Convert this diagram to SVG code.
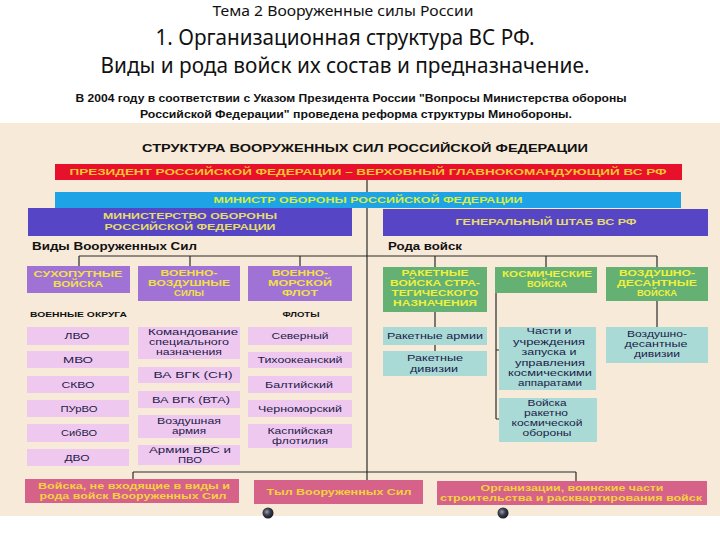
<svg xmlns="http://www.w3.org/2000/svg" width="720" height="540" viewBox="0 0 720 540">
<defs>
<style>
text { font-family: "Liberation Sans", Arial, sans-serif; }
.ttl { font-family: "Noto Sans", "Liberation Sans", sans-serif; fill:#111; text-anchor:middle; }
.par { font-family: "Liberation Sans", sans-serif; font-weight:bold; font-size:11px; fill:#111; text-anchor:middle; }
.ln { stroke:#2a2a2a; stroke-width:1.2; fill:none; }
.red { fill:#e8112b; }
.cy { fill:#1ea4e6; }
.nv { fill:#5646c6; }
.vid { fill:#a172d6; }
.pk { fill:#efc8ef; }
.rod { fill:#65b173; }
.tl { fill:#a9dad6; }
.bt { fill:#d6628a; }
.hd { font-weight:bold; text-anchor:middle; font-size:8.5px; }
.yr { fill:#f6c431; }
.yc { fill:#d9ee3a; }
.yn { fill:#e6dc6a; }
.yv { fill:#f2e048; }
.yg { fill:#eef040; }
.yb { fill:#f5d23c; }
.s { font-size:9px; fill:#1c1c4a; text-anchor:middle; }
.lb { font-weight:bold; fill:#111; }
</style>
<radialGradient id="blob" cx="0.4" cy="0.4" r="0.6">
<stop offset="0" stop-color="#9aa0b0"/>
<stop offset="0.5" stop-color="#3a3f4e"/>
<stop offset="1" stop-color="#1a1c24"/>
</radialGradient>
</defs>

<rect x="0" y="0" width="720" height="540" fill="#ffffff"/>
<rect x="0" y="123" width="720" height="393" fill="#f7ead8"/>

<g id="titles">
<text class="ttl" x="343" y="16" font-size="15" textLength="261" lengthAdjust="spacingAndGlyphs">Тема 2 Вооруженные силы России</text>
<text class="ttl" x="345" y="45" font-size="21" textLength="379" lengthAdjust="spacingAndGlyphs">1. Организационная структура ВС РФ.</text>
<text class="ttl" x="345" y="73" font-size="21" textLength="489" lengthAdjust="spacingAndGlyphs">Виды и рода войск их состав и предназначение.</text>
<text class="par" x="351" y="102" textLength="551" lengthAdjust="spacingAndGlyphs">В 2004 году в соответствии с Указом Президента России "Вопросы Министерства обороны</text>
<text class="par" x="356" y="118" textLength="432" lengthAdjust="spacingAndGlyphs">Российской Федерации" проведена реформа структуры Минобороны.</text>
<text class="lb" x="365" y="152" font-size="10" text-anchor="middle" textLength="446" lengthAdjust="spacingAndGlyphs">СТРУКТУРА ВООРУЖЕННЫХ СИЛ РОССИЙСКОЙ ФЕДЕРАЦИИ</text>
<text class="lb" x="32" y="250" font-size="10.5" textLength="165" lengthAdjust="spacingAndGlyphs">Виды Вооруженных Сил</text>
<text class="lb" x="388" y="250" font-size="10.5" textLength="74" lengthAdjust="spacingAndGlyphs">Рода войск</text>
<text class="lb" x="30" y="317" font-size="6.5" textLength="97" lengthAdjust="spacingAndGlyphs">ВОЕННЫЕ ОКРУГА</text>
<text class="lb" x="301" y="317" font-size="7" text-anchor="middle" textLength="37" lengthAdjust="spacingAndGlyphs">ФЛОТЫ</text>
</g>

<g id="connectors">
<path class="ln" d="M367 180V480"/>
<path class="ln" d="M79 256H657M79 256V266M190 256V266M300 256V266M435 256V267M546 256V267M657 256V267"/>
<path class="ln" d="M435 312V327M435 345V351"/>
<path class="ln" d="M496 293V419M496 350H499M496 419H499"/>
<path class="ln" d="M657 301V327"/>
<path class="ln" d="M133 472H576M133 472V479M576 472V481"/>
</g>

<g id="president">
<rect class="red" x="55" y="164" width="627" height="16"/>
<text class="hd yr" x="368" y="175" textLength="597" lengthAdjust="spacingAndGlyphs">ПРЕЗИДЕНТ РОССИЙСКОЙ ФЕДЕРАЦИИ – ВЕРХОВНЫЙ ГЛАВНОКОМАНДУЮЩИЙ ВС РФ</text>
</g>
<g id="minister">
<rect class="cy" x="55" y="192" width="626" height="16"/>
<text class="hd yc" x="368" y="203" textLength="309" lengthAdjust="spacingAndGlyphs">МИНИСТР ОБОРОНЫ РОССИЙСКОЙ ФЕДЕРАЦИИ</text>
</g>
<g id="ministry">
<rect class="nv" x="28" y="208" width="324" height="28"/>
<text class="hd yn" x="190" y="219" textLength="174" lengthAdjust="spacingAndGlyphs">МИНИСТЕРСТВО ОБОРОНЫ</text>
<text class="hd yn" x="190" y="230" textLength="171" lengthAdjust="spacingAndGlyphs">РОССИЙСКОЙ ФЕДЕРАЦИИ</text>
</g>
<g id="genshtab">
<rect class="nv" x="383" y="209" width="325" height="27"/>
<text class="hd yn" x="546" y="225" textLength="181" lengthAdjust="spacingAndGlyphs">ГЕНЕРАЛЬНЫЙ ШТАБ ВС РФ</text>
</g>

<g id="sv">
<rect class="vid" x="27" y="266" width="103" height="27"/>
<text class="hd yv" x="78" y="277" textLength="89" lengthAdjust="spacingAndGlyphs">СУХОПУТНЫЕ</text>
<text class="hd yv" x="78" y="287" textLength="50" lengthAdjust="spacingAndGlyphs">ВОЙСКА</text>
</g>
<g id="vvs">
<rect class="vid" x="138" y="266" width="102" height="35"/>
<text class="hd yv" x="189" y="276" textLength="57" lengthAdjust="spacingAndGlyphs">ВОЕННО-</text>
<text class="hd yv" x="189" y="286" textLength="82" lengthAdjust="spacingAndGlyphs">ВОЗДУШНЫЕ</text>
<text class="hd yv" x="189" y="296" textLength="30" lengthAdjust="spacingAndGlyphs">СИЛЫ</text>
</g>
<g id="vmf">
<rect class="vid" x="248" y="266" width="104" height="35"/>
<text class="hd yv" x="300" y="276" textLength="56" lengthAdjust="spacingAndGlyphs">ВОЕННО-</text>
<text class="hd yv" x="300" y="286" textLength="64" lengthAdjust="spacingAndGlyphs">МОРСКОЙ</text>
<text class="hd yv" x="300" y="296" textLength="36" lengthAdjust="spacingAndGlyphs">ФЛОТ</text>
</g>
<g id="rvsn">
<rect class="rod" x="383" y="267" width="104" height="45"/>
<text class="hd yg" x="435" y="276" textLength="67" lengthAdjust="spacingAndGlyphs">РАКЕТНЫЕ</text>
<text class="hd yg" x="435" y="286" textLength="90" lengthAdjust="spacingAndGlyphs">ВОЙСКА СТРА-</text>
<text class="hd yg" x="435" y="296" textLength="87" lengthAdjust="spacingAndGlyphs">ТЕГИЧЕСКОГО</text>
<text class="hd yg" x="435" y="306" textLength="84" lengthAdjust="spacingAndGlyphs">НАЗНАЧЕНИЯ</text>
</g>
<g id="kv">
<rect class="rod" x="495" y="267" width="102" height="26"/>
<text class="hd yg" x="547" y="277" textLength="90" lengthAdjust="spacingAndGlyphs">КОСМИЧЕСКИЕ</text>
<text class="hd yg" x="547" y="287" textLength="40" lengthAdjust="spacingAndGlyphs">ВОЙСКА</text>
</g>
<g id="vdv">
<rect class="rod" x="606" y="267" width="102" height="34"/>
<text class="hd yg" x="657" y="276" textLength="76" lengthAdjust="spacingAndGlyphs">ВОЗДУШНО-</text>
<text class="hd yg" x="657" y="286" textLength="80" lengthAdjust="spacingAndGlyphs">ДЕСАНТНЫЕ</text>
<text class="hd yg" x="657" y="296" textLength="40" lengthAdjust="spacingAndGlyphs">ВОЙСКА</text>
</g>

<g id="lvo"><rect class="pk" x="27" y="327" width="102" height="18"/><text class="s" x="77" y="339" textLength="25" lengthAdjust="spacingAndGlyphs">ЛВО</text></g>
<g id="mvo"><rect class="pk" x="27" y="351" width="102" height="17"/><text class="s" x="78" y="363" textLength="30" lengthAdjust="spacingAndGlyphs">МВО</text></g>
<g id="skvo"><rect class="pk" x="27" y="376" width="102" height="17"/><text class="s" x="78" y="388" textLength="33" lengthAdjust="spacingAndGlyphs">СКВО</text></g>
<g id="purvo"><rect class="pk" x="27" y="400" width="102" height="17"/><text class="s" x="79" y="412" textLength="37" lengthAdjust="spacingAndGlyphs">ПУрВО</text></g>
<g id="sibvo"><rect class="pk" x="27" y="424" width="102" height="18"/><text class="s" x="79" y="436" textLength="36" lengthAdjust="spacingAndGlyphs">СибВО</text></g>
<g id="dvo"><rect class="pk" x="27" y="449" width="102" height="17"/><text class="s" x="77" y="461" textLength="25" lengthAdjust="spacingAndGlyphs">ДВО</text></g>

<g id="ksn"><rect class="pk" x="138" y="327" width="102" height="32"/>
<text class="s" x="193" y="335" textLength="90" lengthAdjust="spacingAndGlyphs">Командование</text>
<text class="s" x="189" y="345" textLength="80" lengthAdjust="spacingAndGlyphs">специального</text>
<text class="s" x="189" y="355" textLength="66" lengthAdjust="spacingAndGlyphs">назначения</text></g>
<g id="vasn"><rect class="pk" x="138" y="367" width="102" height="16"/><text class="s" x="193" y="378" textLength="79" lengthAdjust="spacingAndGlyphs">ВА ВГК (СН)</text></g>
<g id="vavta"><rect class="pk" x="138" y="391" width="102" height="17"/><text class="s" x="191" y="403" textLength="78" lengthAdjust="spacingAndGlyphs">ВА ВГК (ВТА)</text></g>
<g id="va"><rect class="pk" x="138" y="415" width="102" height="23"/>
<text class="s" x="189" y="424" textLength="64" lengthAdjust="spacingAndGlyphs">Воздушная</text>
<text class="s" x="189" y="434" textLength="34" lengthAdjust="spacingAndGlyphs">армия</text></g>
<g id="avvs"><rect class="pk" x="138" y="445" width="102" height="20"/>
<text class="s" x="190" y="453" textLength="82" lengthAdjust="spacingAndGlyphs">Армии ВВС и</text>
<text class="s" x="190" y="463" textLength="24" lengthAdjust="spacingAndGlyphs">ПВО</text></g>

<g id="sev"><rect class="pk" x="248" y="327" width="104" height="18"/><text class="s" x="300" y="339" textLength="57" lengthAdjust="spacingAndGlyphs">Северный</text></g>
<g id="tih"><rect class="pk" x="248" y="352" width="104" height="16"/><text class="s" x="300" y="363" textLength="85" lengthAdjust="spacingAndGlyphs">Тихоокеанский</text></g>
<g id="bal"><rect class="pk" x="248" y="376" width="104" height="17"/><text class="s" x="299" y="388" textLength="68" lengthAdjust="spacingAndGlyphs">Балтийский</text></g>
<g id="chf"><rect class="pk" x="248" y="400" width="104" height="17"/><text class="s" x="300" y="412" textLength="84" lengthAdjust="spacingAndGlyphs">Черноморский</text></g>
<g id="kasp"><rect class="pk" x="248" y="424" width="104" height="24"/>
<text class="s" x="300" y="434" textLength="65" lengthAdjust="spacingAndGlyphs">Каспийская</text>
<text class="s" x="300" y="444" textLength="56" lengthAdjust="spacingAndGlyphs">флотилия</text></g>

<g id="rarm"><rect class="tl" x="383" y="327" width="104" height="18"/><text class="s" x="435" y="339" textLength="96" lengthAdjust="spacingAndGlyphs">Ракетные армии</text></g>
<g id="rdiv"><rect class="tl" x="383" y="351" width="104" height="25"/>
<text class="s" x="435" y="361" textLength="56" lengthAdjust="spacingAndGlyphs">Ракетные</text>
<text class="s" x="434" y="372" textLength="48" lengthAdjust="spacingAndGlyphs">дивизии</text></g>

<g id="chasti"><rect class="tl" x="499" y="327" width="97" height="63"/>
<text class="s" x="549" y="334" textLength="45" lengthAdjust="spacingAndGlyphs">Части и</text>
<text class="s" x="549" y="345" textLength="72" lengthAdjust="spacingAndGlyphs">учреждения</text>
<text class="s" x="549" y="355" textLength="55" lengthAdjust="spacingAndGlyphs">запуска и</text>
<text class="s" x="550" y="366" textLength="70" lengthAdjust="spacingAndGlyphs">управления</text>
<text class="s" x="550" y="376" textLength="84" lengthAdjust="spacingAndGlyphs">космическими</text>
<text class="s" x="550" y="386" textLength="64" lengthAdjust="spacingAndGlyphs">аппаратами</text></g>
<g id="rko"><rect class="tl" x="499" y="398" width="98" height="44"/>
<text class="s" x="547" y="406" textLength="39" lengthAdjust="spacingAndGlyphs">Войска</text>
<text class="s" x="546" y="416" textLength="44" lengthAdjust="spacingAndGlyphs">ракетно</text>
<text class="s" x="547" y="426" textLength="71" lengthAdjust="spacingAndGlyphs">космической</text>
<text class="s" x="547" y="436" textLength="49" lengthAdjust="spacingAndGlyphs">обороны</text></g>

<g id="vdd"><rect class="tl" x="606" y="327" width="102" height="36"/>
<text class="s" x="657" y="337" textLength="60" lengthAdjust="spacingAndGlyphs">Воздушно-</text>
<text class="s" x="656" y="347" textLength="63" lengthAdjust="spacingAndGlyphs">десантные</text>
<text class="s" x="657" y="357" textLength="46" lengthAdjust="spacingAndGlyphs">дивизии</text></g>

<g id="vne"><rect class="bt" x="25" y="479" width="214" height="24"/>
<text class="hd yb" x="134" y="489" textLength="192" lengthAdjust="spacingAndGlyphs">Войска, не входящие в виды и</text>
<text class="hd yb" x="133" y="499" textLength="187" lengthAdjust="spacingAndGlyphs">рода войск Вооруженных Сил</text></g>
<g id="tyl"><rect class="bt" x="254" y="480" width="169" height="24"/>
<text class="hd yb" x="339" y="495" textLength="145" lengthAdjust="spacingAndGlyphs">Тыл Вооруженных Сил</text></g>
<g id="org"><rect class="bt" x="437" y="481" width="270" height="24"/>
<text class="hd yb" x="572" y="491" textLength="183" lengthAdjust="spacingAndGlyphs">Организации, воинские части</text>
<text class="hd yb" x="571" y="501" textLength="262" lengthAdjust="spacingAndGlyphs">строительства и расквартирования войск</text></g>

<g id="bullets">
<circle cx="268" cy="513" r="5.5" fill="url(#blob)"/>
<circle cx="503" cy="513" r="5.5" fill="url(#blob)"/>
</g>
</svg>
